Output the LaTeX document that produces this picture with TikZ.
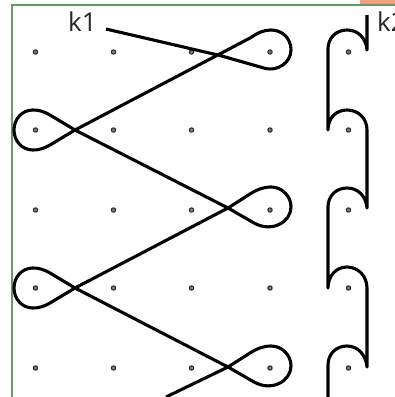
\documentclass[tikz,border=0pt]{standalone}
\usepackage{fontspec}
\setmainfont{Open Sans}
\definecolor{framegreen}{HTML}{639C63}
\definecolor{cornerpink}{HTML}{F4A080}
\tikzset{
  x=1pt,y=-1pt,
  thread/.style={line width=3.1pt,line cap=butt,line join=round},
  dot/.style={circle,draw=black!85,fill=black!50,line width=1pt,minimum size=4.4pt,inner sep=0pt},
  lab/.style={font=\fontsize{26}{28}\selectfont,text=black!85,inner sep=0pt}
}
\begin{document}
\begin{tikzpicture}
\useasboundingbox (0,0) rectangle (395,397);
\fill[white] (0,0) rectangle (395,397);
\fill[cornerpink] (360,0) rectangle (395,3.5);
\draw[framegreen,line width=2pt] (12,397) -- (12,4.5) -- (395,4.5);
\foreach \cx/\xx in {1/35.5,2/113.5,3/191.5,4/270,5/348.5}
  \foreach \cy/\yy in {1/52,2/130,3/210,4/288,5/368}
    \node[dot] (d\cx\cy) at (\xx,\yy) {};
\node[lab] (k1) at (82.5,22) {k1};
\node[lab,anchor=west] (k2) at (377,21.5) {k2};
\coordinate (s1) at (106,29);
\coordinate (s2) at (367,15);
\draw[thread] (s1) -- (220,55.5) -- (262,67.5) .. controls (278,73) and (291,62) .. (291,50)
  .. controls (291,38) and (282,30) .. (271,30) .. controls (264,30) and (257,33) .. (251,37.5)
  -- (75,130) -- (50,145) .. controls (43,149) and (38,150) .. (33,150)
  .. controls (22,150) and (14,141) .. (14,130) .. controls (14,119) and (22,110) .. (33,110)
  .. controls (38,110) and (43,111) .. (50,115)
  -- (75,130) -- (228,208) -- (254,223) .. controls (272,233) and (291,222) .. (291,207)
  .. controls (291,196) and (282,187) .. (271,187) .. controls (263,187) and (256,190) .. (250,194)
  -- (228,208) -- (75,288) -- (50,303) .. controls (43,307) and (38,308) .. (33,308)
  .. controls (22,308) and (14,299) .. (14,288) .. controls (14,277) and (22,268) .. (33,268)
  .. controls (38,268) and (43,269) .. (50,273)
  -- (75,288) -- (228,367) -- (254,382) .. controls (272,392) and (291,381) .. (291,366)
  .. controls (291,355) and (282,346) .. (271,346) .. controls (263,346) and (256,349) .. (250,353)
  -- (228,367) -- (166,397);
\draw[thread] (s2) -- (367,50) .. controls (366,38) and (358,30) .. (347,30)
  .. controls (336,30) and (328,38) .. (328,49) -- (328,130)
  .. controls (328,118) and (336,110) .. (347,110)
  .. controls (358,110) and (367,118) .. (367,130) -- (367,208)
  .. controls (366,196) and (358,188) .. (347,188)
  .. controls (336,188) and (328,196) .. (328,207) -- (328,288)
  .. controls (328,276) and (336,267) .. (347,267)
  .. controls (358,267) and (367,276) .. (367,288) -- (367,367)
  .. controls (366,355) and (358,346) .. (347,346)
  .. controls (336,346) and (328,354) .. (328,365) -- (328,397);
\end{tikzpicture}
\end{document}
